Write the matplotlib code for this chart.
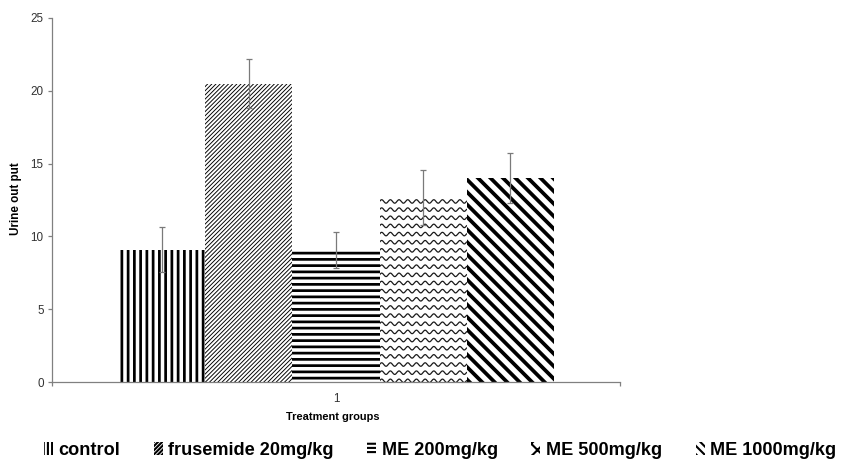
import matplotlib.pyplot as plt
from matplotlib.patches import Patch
import numpy as np

groups = ['control', 'frusemide 20mg/kg', 'ME 200mg/kg', 'ME 500mg/kg', 'ME 1000mg/kg']
urine = [9.1, 20.5, 9.05, 12.65, 14.0]
sem = [1.55, 1.65, 1.25, 1.9, 1.7]
category = [1]
category_labels = ['1']

# hatch per group (ME 500 gets a wavy fill drawn below)
hatches = ['||||', '/' * 12, '----', None, '\\' * 4]
legend_hatches = ['||||||', '/' * 12, '------', 'xxxx', '\\' * 6]
hatch_lw = [1.3, 0.45, 1.3, 0.6, 1.8]
legend_hatch_lw = [1.0, 0.5, 1.0, 0.5, 1.2]

plt.rcParams['font.family'] = ['Liberation Sans', 'DejaVu Sans']

fig = plt.figure(figsize=(844 / 150, 460 / 150), dpi=150)
ax = fig.add_axes([52 / 844, 78 / 460, 568 / 844, 364 / 460])

width = 0.1532
bars = []
for i in range(len(groups)):
    x = category[0] + (i - 2) * width
    with plt.rc_context({'hatch.linewidth': hatch_lw[i]}):
        b = ax.bar(x, urine[i], width, color='white', edgecolor='black',
                   linewidth=0, hatch=hatches[i], zorder=2)
    p = b.patches[0]
    if hasattr(p, 'set_hatch_linewidth'):
        p.set_hatch_linewidth(hatch_lw[i])
    bars.append(p)
    ax.errorbar(x, urine[i], yerr=sem[i], fmt='none', ecolor='#7a7a7a',
                elinewidth=0.6, capsize=1.5, capthick=0.6, zorder=3)

# wavy fill for ME 500mg/kg
wb = bars[3]
x0, w = wb.get_x(), wb.get_width()
xs = np.linspace(x0, x0 + w, 600)
for row in np.arange(urine[3] - 0.25, -0.3, -0.56):
    ln, = ax.plot(xs, row + 0.12 * np.sin(2 * np.pi * (xs - x0) / 0.0153),
                  color='#1a1a1a', lw=0.6, zorder=2.5)
    ln.set_clip_path(wb)

ax.set_xlim(0.5, 1.5)
ax.set_ylim(0, 25)
ax.set_yticks(range(0, 26, 5))
ax.set_xticks(category)
ax.set_xticklabels(category_labels)
ax.set_xticks([0.5, 1.5], minor=True)

for s in ['top', 'right']:
    ax.spines[s].set_visible(False)
for s in ['left', 'bottom']:
    ax.spines[s].set_color('#808080')
    ax.spines[s].set_linewidth(0.6)

ax.tick_params(axis='y', length=2, width=0.6, color='#808080', labelsize=5.6,
               labelcolor='#333333', pad=2)
ax.tick_params(axis='x', which='major', length=0, labelsize=5.6,
               labelcolor='#333333', pad=5.5)
ax.tick_params(axis='x', which='minor', length=2, width=0.6, color='#808080')

ax.set_ylabel('Urine out put', fontsize=5.6, fontweight='bold', va='center')
ax.yaxis.set_label_coords(-0.0634, 0.503)
ax.set_xlabel('Treatment groups', fontsize=5.3, fontweight='bold', va='center')
ax.xaxis.set_label_coords(0.4947, -0.096)

handles = []
for i in range(len(groups)):
    with plt.rc_context({'hatch.linewidth': legend_hatch_lw[i]}):
        h = Patch(facecolor='white', edgecolor='black', linewidth=0,
                  hatch=legend_hatches[i])
    if hasattr(h, 'set_hatch_linewidth'):
        h.set_hatch_linewidth(legend_hatch_lw[i])
    handles.append(h)

fig.legend(handles, groups, loc='center', bbox_to_anchor=(440 / 844, 1 - 450 / 460),
           ncol=5, frameon=False, prop={'weight': 'bold', 'size': 8.7},
           handlelength=0.5, handleheight=0.7, handletextpad=0.3,
           columnspacing=1.85, borderpad=0, borderaxespad=0)

fig.savefig('out.png', dpi=150)
